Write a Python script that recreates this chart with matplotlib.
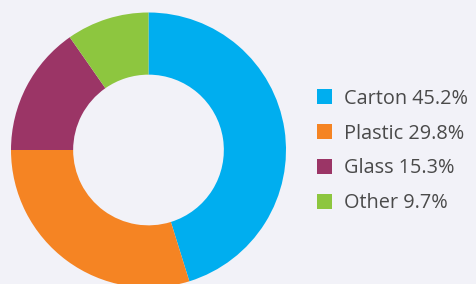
import matplotlib
matplotlib.use("Agg")
import matplotlib.pyplot as plt
from matplotlib.patches import Patch

categories = ["Carton", "Plastic", "Glass", "Other"]
shares = [45.2, 29.8, 15.3, 9.7]
colors = ["#00aeef", "#f58423", "#9b3566", "#8dc63f"]
bg = "#f2f2f8"

W, H = 477, 284
fig = plt.figure(figsize=(W / 100, H / 100), dpi=100, facecolor=bg)

# donut: centre (148.5, 150) px from top, outer radius 137.5 px
cx, cy, r = 148.5, 150, 137.5
ax = fig.add_axes([(cx - r) / W, (H - cy - r) / H, 2 * r / W, 2 * r / H])
ax.set_facecolor(bg)
ax.pie(shares, colors=colors, startangle=90, counterclock=False,
       radius=1, wedgeprops=dict(width=0.452, linewidth=0))
ax.set_xlim(-1, 1)
ax.set_ylim(-1, 1)
ax.set_aspect("equal")
ax.axis("off")

handles = [Patch(facecolor=c, edgecolor="none") for c in colors]
labels = [f"{n} {v}%" for n, v in zip(categories, shares)]
leg = fig.legend(handles, labels, loc="center left",
                 bbox_to_anchor=(317 / W, (H - 151) / H),
                 frameon=False,
                 prop={"family": "Open Sans", "size": 14.3},
                 handlelength=0.75, handleheight=0.75,
                 handletextpad=0.62, labelspacing=0.75,
                 borderpad=0, borderaxespad=0)
for t in leg.get_texts():
    t.set_color("#4a4a4a")

fig.savefig("out.png", dpi=100, facecolor=bg)
